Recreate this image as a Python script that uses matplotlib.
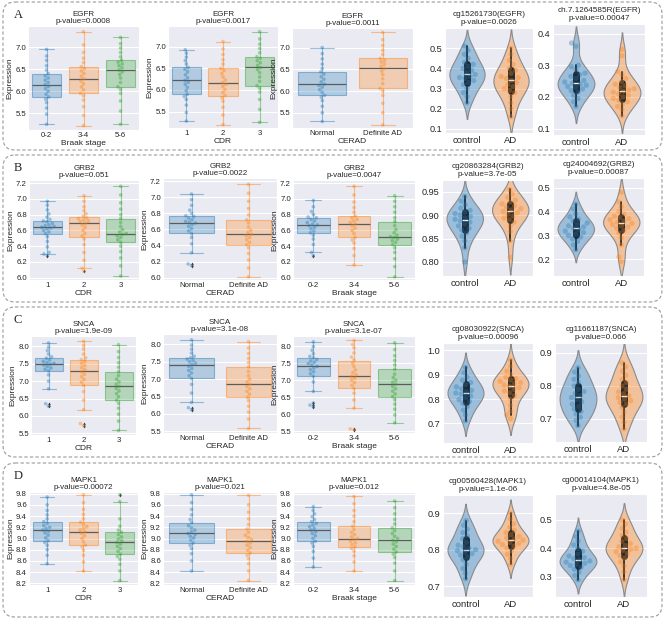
import numpy as np
import pandas as pd
import matplotlib
matplotlib.use("Agg")
import matplotlib.pyplot as plt
import matplotlib.transforms as mtransforms
from matplotlib.colors import to_rgba
from matplotlib.patches import FancyBboxPatch
import seaborn as sns

# ---------------- data ----------------
braak = ["0-2", "3-4", "5-6"]
cdr = ["1", "2", "3"]
cerad = ["Normal", "Definite AD"]
grp = ["control", "AD"]

# Row A: EGFR
a_braak = [
    [5.25, 5.48, 5.62, 5.74, 5.82, 5.87, 5.93, 6.00, 6.06, 6.11, 6.15, 6.20, 6.25, 6.30, 6.35, 6.40, 6.48, 6.58, 6.70, 6.80, 6.95],
    [5.22, 5.45, 5.65, 5.80, 5.90, 5.95, 6.03, 6.10, 6.17, 6.23, 6.28, 6.34, 6.40, 6.46, 6.51, 6.56, 6.65, 6.75, 6.88, 7.05, 7.35],
    [5.25, 5.55, 5.78, 5.95, 6.04, 6.10, 6.20, 6.30, 6.38, 6.44, 6.48, 6.53, 6.58, 6.62, 6.66, 6.70, 6.78, 6.88, 6.98, 7.08, 7.22],
]
a_cdr = [
    [5.28, 5.48, 5.65, 5.78, 5.85, 5.90, 5.98, 6.06, 6.13, 6.18, 6.22, 6.28, 6.35, 6.42, 6.48, 6.52, 6.60, 6.68, 6.76, 6.85, 6.93],
    [5.20, 5.42, 5.60, 5.74, 5.82, 5.87, 5.94, 6.01, 6.08, 6.13, 6.17, 6.23, 6.30, 6.38, 6.45, 6.50, 6.60, 6.70, 6.82, 6.95, 7.12],
    [5.25, 5.55, 5.78, 5.95, 6.04, 6.10, 6.20, 6.30, 6.40, 6.47, 6.52, 6.57, 6.63, 6.68, 6.73, 6.77, 6.86, 6.96, 7.06, 7.18, 7.35],
]
a_cerad = [
    [5.30, 5.50, 5.65, 5.78, 5.86, 5.90, 5.97, 6.03, 6.09, 6.13, 6.16, 6.21, 6.27, 6.33, 6.39, 6.44, 6.52, 6.62, 6.74, 6.86, 7.00],
    [5.22, 5.50, 5.72, 5.90, 6.00, 6.06, 6.17, 6.28, 6.38, 6.46, 6.52, 6.57, 6.62, 6.67, 6.71, 6.75, 6.84, 6.94, 7.05, 7.18, 7.35],
]
a_cg1 = [
    [0.23, 0.26, 0.28, 0.30, 0.32, 0.33, 0.34, 0.35, 0.355, 0.36, 0.37, 0.38, 0.39, 0.40, 0.41, 0.42, 0.43, 0.45, 0.47, 0.49, 0.51],
    [0.16, 0.20, 0.23, 0.26, 0.28, 0.29, 0.30, 0.31, 0.32, 0.33, 0.34, 0.35, 0.355, 0.36, 0.375, 0.39, 0.40, 0.42, 0.44, 0.47, 0.50],
]
a_cg2 = [
    [0.17, 0.185, 0.195, 0.205, 0.215, 0.22, 0.225, 0.23, 0.233, 0.237, 0.24, 0.243, 0.247, 0.252, 0.258, 0.265, 0.27, 0.275, 0.285, 0.295, 0.30, 0.36, 0.37],
    [0.14, 0.16, 0.17, 0.178, 0.185, 0.19, 0.195, 0.2, 0.205, 0.21, 0.215, 0.218, 0.222, 0.226, 0.23, 0.235, 0.24, 0.248, 0.258, 0.27, 0.28, 0.33, 0.35],
]

# Row B: GRB2
b_cdr = [
    [6.28, 6.30, 6.32, 6.39, 6.46, 6.52, 6.56, 6.58, 6.60, 6.62, 6.63, 6.64, 6.65, 6.66, 6.67, 6.69, 6.71, 6.72, 6.74, 6.77, 6.81, 6.86, 6.92, 6.97],
    [6.08, 6.12, 6.22, 6.32, 6.42, 6.49, 6.53, 6.56, 6.60, 6.64, 6.67, 6.69, 6.71, 6.72, 6.73, 6.75, 6.76, 6.78, 6.81, 6.85, 6.90, 6.97, 7.04],
    [6.02, 6.15, 6.25, 6.33, 6.40, 6.45, 6.48, 6.51, 6.53, 6.55, 6.56, 6.58, 6.61, 6.65, 6.70, 6.75, 6.80, 6.87, 6.95, 7.05, 7.16],
]
b_cerad = [
    [6.15, 6.17, 6.31, 6.42, 6.50, 6.55, 6.58, 6.61, 6.64, 6.66, 6.68, 6.69, 6.70, 6.72, 6.74, 6.76, 6.77, 6.80, 6.84, 6.90, 6.97, 7.04],
    [6.01, 6.12, 6.22, 6.30, 6.37, 6.41, 6.44, 6.47, 6.50, 6.52, 6.54, 6.56, 6.59, 6.63, 6.68, 6.72, 6.78, 6.86, 6.95, 7.05, 7.16],
]
b_braak = [
    [6.28, 6.32, 6.42, 6.49, 6.54, 6.57, 6.59, 6.62, 6.64, 6.66, 6.67, 6.68, 6.70, 6.72, 6.74, 6.76, 6.77, 6.80, 6.84, 6.90, 6.98],
    [6.16, 6.28, 6.37, 6.44, 6.48, 6.51, 6.56, 6.60, 6.63, 6.66, 6.68, 6.70, 6.72, 6.74, 6.76, 6.78, 6.83, 6.89, 6.96, 7.05, 7.16],
    [6.01, 6.14, 6.24, 6.32, 6.38, 6.42, 6.45, 6.47, 6.49, 6.51, 6.52, 6.54, 6.57, 6.61, 6.66, 6.71, 6.76, 6.83, 6.90, 6.97, 7.04],
]
b_cg1 = [
    [0.80, 0.83, 0.845, 0.855, 0.862, 0.868, 0.872, 0.877, 0.881, 0.885, 0.888, 0.891, 0.894, 0.897, 0.9, 0.903, 0.907, 0.91, 0.915, 0.922, 0.93, 0.94],
    [0.81, 0.845, 0.865, 0.877, 0.885, 0.89, 0.894, 0.898, 0.902, 0.905, 0.908, 0.911, 0.914, 0.917, 0.92, 0.924, 0.928, 0.932, 0.938, 0.945, 0.955],
]
b_cg2 = [
    [0.24, 0.26, 0.275, 0.285, 0.293, 0.30, 0.306, 0.312, 0.318, 0.324, 0.33, 0.335, 0.34, 0.346, 0.352, 0.36, 0.368, 0.378, 0.39, 0.41, 0.43],
    [0.19, 0.21, 0.26, 0.29, 0.31, 0.32, 0.33, 0.335, 0.34, 0.345, 0.35, 0.355, 0.36, 0.365, 0.37, 0.375, 0.38, 0.39, 0.40, 0.42, 0.44, 0.48],
]

# Row C: SNCA
c_cdr = [
    [6.28, 6.35, 6.78, 7.00, 7.18, 7.30, 7.34, 7.38, 7.42, 7.46, 7.49, 7.51, 7.54, 7.57, 7.61, 7.66, 7.70, 7.78, 7.88, 7.98, 8.10],
    [5.72, 5.78, 6.18, 6.45, 6.70, 6.88, 6.97, 7.05, 7.13, 7.20, 7.27, 7.33, 7.39, 7.45, 7.51, 7.57, 7.62, 7.67, 7.78, 7.92, 8.03, 8.15],
    [5.58, 5.85, 6.05, 6.22, 6.36, 6.45, 6.55, 6.64, 6.72, 6.79, 6.85, 6.91, 6.98, 7.06, 7.16, 7.27, 7.40, 7.53, 7.68, 7.85, 8.05],
]
c_cerad = [
    [6.12, 6.18, 6.33, 6.60, 6.85, 7.02, 7.10, 7.18, 7.25, 7.31, 7.37, 7.42, 7.46, 7.50, 7.54, 7.58, 7.62, 7.66, 7.75, 7.86, 7.98, 8.13],
    [5.58, 5.85, 6.05, 6.22, 6.38, 6.48, 6.57, 6.65, 6.72, 6.79, 6.85, 6.92, 7.00, 7.10, 7.22, 7.35, 7.48, 7.60, 7.74, 7.90, 8.08],
]
c_braak = [
    [6.22, 6.27, 6.33, 6.67, 6.95, 7.12, 7.19, 7.25, 7.31, 7.36, 7.41, 7.45, 7.49, 7.53, 7.57, 7.61, 7.66, 7.70, 7.78, 7.88, 7.99, 8.13],
    [5.55, 5.57, 6.18, 6.42, 6.62, 6.76, 6.85, 6.93, 7.00, 7.06, 7.11, 7.16, 7.22, 7.30, 7.40, 7.50, 7.60, 7.68, 7.80, 7.95, 8.05, 8.17],
    [5.75, 5.98, 6.15, 6.30, 6.43, 6.52, 6.60, 6.68, 6.75, 6.82, 6.88, 6.94, 7.00, 7.08, 7.18, 7.32, 7.45, 7.58, 7.72, 7.90, 8.10],
]
c_cg1 = [
    [0.71, 0.735, 0.755, 0.77, 0.782, 0.79, 0.798, 0.806, 0.813, 0.82, 0.825, 0.83, 0.836, 0.842, 0.85, 0.86, 0.868, 0.878, 0.89, 0.908, 0.93],
    [0.72, 0.735, 0.75, 0.775, 0.8, 0.815, 0.826, 0.833, 0.84, 0.847, 0.853, 0.858, 0.863, 0.868, 0.873, 0.878, 0.884, 0.89, 0.9, 0.915, 0.935, 0.96],
]
c_cg2 = [
    [0.68, 0.695, 0.705, 0.715, 0.723, 0.73, 0.738, 0.745, 0.752, 0.759, 0.765, 0.771, 0.777, 0.783, 0.79, 0.8, 0.81, 0.82, 0.83, 0.842, 0.855],
    [0.67, 0.69, 0.705, 0.72, 0.735, 0.745, 0.75, 0.755, 0.76, 0.765, 0.77, 0.776, 0.782, 0.79, 0.8, 0.81, 0.82, 0.832, 0.845, 0.858, 0.87],
]

# Row D: MAPK1
d_cdr = [
    [8.55, 8.70, 8.80, 8.88, 8.93, 8.96, 9.01, 9.06, 9.10, 9.13, 9.15, 9.18, 9.20, 9.23, 9.27, 9.30, 9.35, 9.42, 9.50, 9.60, 9.74],
    [8.42, 8.58, 8.70, 8.79, 8.85, 8.88, 8.94, 9.00, 9.05, 9.09, 9.12, 9.15, 9.18, 9.21, 9.25, 9.29, 9.35, 9.43, 9.52, 9.64, 9.78],
    [8.25, 8.42, 8.54, 8.63, 8.68, 8.72, 8.77, 8.82, 8.86, 8.90, 8.93, 8.96, 8.99, 9.03, 9.07, 9.11, 9.15, 9.22, 9.35, 9.66, 9.78],
]
d_cerad = [
    [8.42, 8.60, 8.73, 8.82, 8.88, 8.92, 8.97, 9.01, 9.04, 9.07, 9.09, 9.12, 9.15, 9.19, 9.23, 9.28, 9.34, 9.42, 9.52, 9.64, 9.78],
    [8.25, 8.42, 8.55, 8.64, 8.70, 8.74, 8.79, 8.84, 8.88, 8.92, 8.95, 8.98, 9.02, 9.06, 9.11, 9.17, 9.25, 9.35, 9.47, 9.60, 9.77],
]
d_braak = [
    [8.49, 8.65, 8.77, 8.86, 8.92, 8.95, 9.00, 9.05, 9.09, 9.12, 9.15, 9.18, 9.21, 9.24, 9.27, 9.30, 9.34, 9.39, 9.44, 9.50, 9.57],
    [8.42, 8.58, 8.69, 8.77, 8.82, 8.85, 8.89, 8.92, 8.95, 8.98, 9.00, 9.03, 9.07, 9.11, 9.16, 9.22, 9.30, 9.40, 9.50, 9.62, 9.75],
    [8.25, 8.42, 8.56, 8.66, 8.72, 8.76, 8.81, 8.86, 8.90, 8.94, 8.97, 9.00, 9.04, 9.09, 9.14, 9.19, 9.26, 9.34, 9.44, 9.55, 9.67],
]
d_cg1 = [
    [0.72, 0.735, 0.748, 0.76, 0.772, 0.78, 0.785, 0.789, 0.793, 0.797, 0.80, 0.804, 0.808, 0.812, 0.82, 0.83, 0.838, 0.847, 0.856, 0.867, 0.88],
    [0.76, 0.775, 0.787, 0.797, 0.805, 0.81, 0.814, 0.817, 0.82, 0.823, 0.826, 0.829, 0.832, 0.836, 0.841, 0.847, 0.853, 0.861, 0.871, 0.884, 0.9],
]
d_cg2 = [
    [0.29, 0.305, 0.317, 0.327, 0.334, 0.34, 0.344, 0.348, 0.352, 0.356, 0.36, 0.364, 0.368, 0.373, 0.38, 0.39, 0.4, 0.412, 0.425, 0.442, 0.46],
    [0.29, 0.318, 0.338, 0.353, 0.366, 0.375, 0.382, 0.388, 0.393, 0.397, 0.40, 0.405, 0.41, 0.417, 0.425, 0.435, 0.445, 0.457, 0.47, 0.485, 0.50],
]

# ---------------- layout ----------------
W, H = 666, 620
sns.set_style("darkgrid")
plt.rcParams["font.family"] = ["Liberation Sans", "DejaVu Sans"]

BLUE, ORANGE, GREEN = "#1f77b4", "#ff7f0e", "#2ca02c"

fig = plt.figure(figsize=(W / 100, H / 100), dpi=100)
px = mtransforms.Affine2D().scale(1 / 100, -1 / 100).translate(0, H / 100) + fig.dpi_scale_trans


def add_ax(x0, y0, x1, y1):
    return fig.add_axes([x0 / W, 1 - y1 / H, (x1 - x0) / W, (y1 - y0) / H])


def long_df(cats, vals):
    return pd.DataFrame({"g": np.repeat(cats, [len(v) for v in vals]),
                         "v": np.concatenate(vals)})


def box_panel(rect, cats, vals, title, xlabel, yticks, ylim, fmt):
    ax = add_ax(*rect)
    colors = [BLUE, ORANGE, GREEN][:len(cats)]
    bp = ax.boxplot(vals, positions=range(len(cats)), widths=0.8, patch_artist=True,
                    manage_ticks=False, whis=1.5,
                    medianprops=dict(color="#5b5b5b", lw=0.9),
                    flierprops=dict(marker="d", markersize=2, markerfacecolor="#333333",
                                    markeredgecolor="none"))
    for i, c in enumerate(colors):
        bp["boxes"][i].set_facecolor(to_rgba(c, 0.28))
        bp["boxes"][i].set_edgecolor(to_rgba(c, 0.45))
        bp["boxes"][i].set_linewidth(0.8)
        for ln in bp["whiskers"][2 * i:2 * i + 2] + bp["caps"][2 * i:2 * i + 2]:
            ln.set_color(to_rgba(c, 0.45))
            ln.set_linewidth(0.8)
    sns.swarmplot(data=long_df(cats, vals), x="g", y="v", hue="g", order=cats,
                  palette=colors, size=2.6, alpha=0.4, legend=False, ax=ax, zorder=3)
    ax.set_xlim(-0.5, len(cats) - 0.5)
    ax.set_ylim(*ylim)
    ax.set_yticks(yticks)
    ax.set_yticklabels([fmt.format(t) for t in yticks])
    ax.set_xlabel(xlabel, fontsize=6, labelpad=1)
    ax.set_ylabel("Expression", fontsize=6, labelpad=1.5)
    ax.tick_params(labelsize=5.6, pad=1.5, length=0)
    ax.xaxis.grid(False)
    ax.set_title(title, fontsize=5.8, pad=2, linespacing=1.1)
    return ax


def violin_panel(rect, vals, title, yticks, ylim, fmt):
    ax = add_ax(*rect)
    df = long_df(grp, vals)
    sns.violinplot(data=df, x="g", y="v", hue="g", order=grp, palette=[BLUE, ORANGE],
                   inner="box", linewidth=0.8, saturation=1, legend=False, ax=ax,
                   linecolor="#8a8a8a",
                   inner_kws=dict(box_width=5, whis_width=1.3, color="#1e2a33"))
    for coll in ax.collections:
        fc = coll.get_facecolor()
        if len(fc):
            coll.set_facecolor(to_rgba(fc[0][:3], 0.38))
    sns.swarmplot(data=df, x="g", y="v", hue="g", order=grp, palette=[BLUE, ORANGE],
                  size=3.8, alpha=0.35, legend=False, ax=ax, zorder=3)
    ax.set_ylim(*ylim)
    ax.set_yticks(yticks)
    ax.set_yticklabels([fmt.format(t) for t in yticks])
    ax.set_xlabel("")
    ax.set_ylabel("")
    ax.tick_params(labelsize=6.6, pad=2, length=0)
    ax.tick_params(axis="x", labelsize=6.8, pad=2.5)
    ax.xaxis.grid(False)
    ax.set_title(title, fontsize=5.9, pad=3, linespacing=1.1)
    return ax


# Row A
box_panel((28, 26, 139, 130), braak, a_braak, "EGFR\np-value=0.0008", "Braak stage",
          [5.5, 6.0, 6.5, 7.0], (5.12, 7.48), "{:.1f}")
box_panel((168, 26, 278, 128), cdr, a_cdr, "EGFR\np-value=0.0017", "CDR",
          [5.5, 6.0, 6.5, 7.0], (5.12, 7.48), "{:.1f}")
box_panel((292, 28, 413, 128), cerad, a_cerad, "EGFR\np-value=0.0011", "CERAD",
          [5.5, 6.0, 6.5, 7.0], (5.15, 7.45), "{:.1f}")
violin_panel((445, 28, 533, 133), a_cg1, "cg15261730(EGFR)\np-value=0.0026",
             [0.1, 0.2, 0.3, 0.4, 0.5], (0.08, 0.60), "{:.1f}")
violin_panel((553, 24, 645, 135), a_cg2, "ch.7.1264585R(EGFR)\np-value=0.00047",
             [0.1, 0.2, 0.3, 0.4], (0.08, 0.43), "{:.1f}")

# Row B
b_ticks = [6.0, 6.2, 6.4, 6.6, 6.8, 7.0, 7.2]
box_panel((29, 180, 139, 280), cdr, b_cdr, "GRB2\np-value=0.051", "CDR",
          b_ticks, (5.97, 7.24), "{:.1f}")
box_panel((163, 178, 277, 280), cerad, b_cerad, "GRB2\np-value=0.0022", "CERAD",
          b_ticks, (5.97, 7.24), "{:.1f}")
box_panel((293, 180, 415, 280), braak, b_braak, "GRB2\np-value=0.0047", "Braak stage",
          b_ticks, (5.97, 7.24), "{:.1f}")
violin_panel((442, 180, 533, 276), b_cg1, "cg20863284(GRB2)\np-value=3.7e-05",
             [0.80, 0.85, 0.90, 0.95], (0.77, 0.975), "{:.2f}")
violin_panel((553, 178, 644, 276), b_cg2, "cg24004692(GRB2)\np-value=0.00087",
             [0.2, 0.3, 0.4, 0.5], (0.13, 0.54), "{:.1f}")

# Row C
c_ticks = [5.5, 6.0, 6.5, 7.0, 7.5, 8.0]
box_panel((31, 336, 136, 435), cdr, c_cdr, "SNCA\np-value=1.9e-09", "CDR",
          c_ticks, (5.45, 8.30), "{:.1f}")
box_panel((163, 334, 277, 433), cerad, c_cerad, "SNCA\np-value=3.1e-08", "CERAD",
          c_ticks, (5.45, 8.30), "{:.1f}")
box_panel((293, 336, 415, 433), braak, c_braak, "SNCA\np-value=3.1e-07", "Braak stage",
          c_ticks, (5.45, 8.30), "{:.1f}")
violin_panel((443, 343, 533, 443), c_cg1, "cg08030922(SNCA)\np-value=0.00096",
             [0.7, 0.8, 0.9, 1.0], (0.62, 1.03), "{:.1f}")
violin_panel((555, 343, 647, 442), c_cg2, "cg11661187(SNCA)\np-value=0.066",
             [0.7, 0.8, 0.9], (0.63, 0.93), "{:.1f}")

# Row D
d_ticks = [8.2, 8.4, 8.6, 8.8, 9.0, 9.2, 9.4, 9.6, 9.8]
box_panel((29, 492, 138, 585), cdr, d_cdr, "MAPK1\np-value=0.00072", "CDR",
          d_ticks, (8.17, 9.83), "{:.1f}")
box_panel((163, 492, 277, 585), cerad, d_cerad, "MAPK1\np-value=0.021", "CERAD",
          d_ticks, (8.17, 9.83), "{:.1f}")
box_panel((293, 492, 415, 585), braak, d_braak, "MAPK1\np-value=0.012", "Braak stage",
          d_ticks, (8.17, 9.83), "{:.1f}")
violin_panel((443, 495, 533, 597), d_cg1, "cg00560428(MAPK1)\np-value=1.1e-06",
             [0.7, 0.8, 0.9], (0.67, 0.95), "{:.1f}")
violin_panel((555, 494, 647, 597), d_cg2, "cg00014104(MAPK1)\np-value=4.8e-05",
             [0.3, 0.4, 0.5], (0.23, 0.59), "{:.1f}")

# dashed rounded frames and panel letters
for (x0, y0, x1, y1), letter in zip([(3, 2, 662, 150), (3, 155, 662, 302),
                                     (3, 307, 662, 457), (3, 463, 662, 617)], "ABCD"):
    fig.add_artist(FancyBboxPatch((x0, y0), x1 - x0, y1 - y0,
                                  boxstyle="round,pad=0,rounding_size=12",
                                  fill=False, ec="#9a9a9a", lw=0.8, ls=(0, (3, 2)),
                                  transform=px))
    fig.text(14, y0 + 13, letter, transform=px, fontsize=9,
             family=["Liberation Serif", "DejaVu Serif"], va="center", ha="left")

fig.savefig("out.png", dpi=100)
